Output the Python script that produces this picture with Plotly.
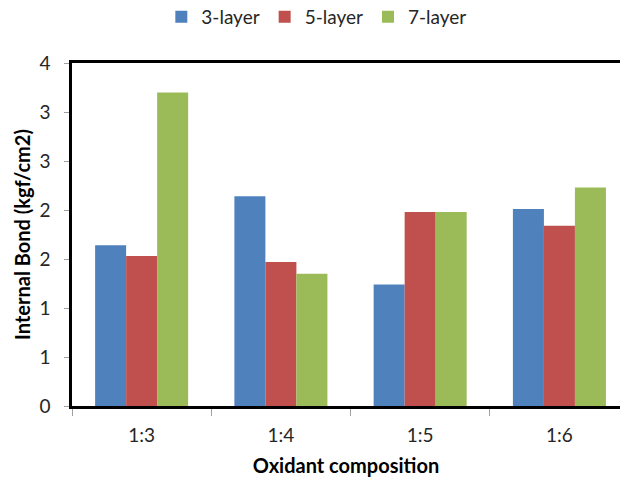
import plotly.graph_objects as go

categories = ["1:3", "1:4", "1:5", "1:6"]
series_names = ["3-layer", "5-layer", "7-layer"]
layer3 = [1.64, 2.14, 1.24, 2.01]
layer5 = [1.53, 1.47, 1.98, 1.84]
layer7 = [3.20, 1.35, 1.98, 2.23]
colors = ["#4F81BD", "#C0504D", "#9BBB59"]
y_tickvals = [0, 0.5, 1, 1.5, 2, 2.5, 3, 3.5]
y_ticktext = ["0", "1", "1", "2", "2", "3", "3", "4"]

FONT = "Lato"
TXT = "#262626"
NB = "\u00a0" * 2

fig = go.Figure()
for name, vals, c in zip(series_names, [layer3, layer5, layer7], colors):
    fig.add_trace(go.Bar(x=categories, y=vals, name=name, marker_color=c,
                         marker_line_width=0))

fig.update_layout(
    width=620, height=480,
    margin=dict(l=72, r=0, t=63, b=74, autoexpand=False),
    paper_bgcolor="white", plot_bgcolor="white",
    barmode="group", bargap=0.332, bargroupgap=0,
    font=dict(family=FONT, color=TXT, size=19),
    legend=dict(orientation="h", xref="container", yref="container",
                x=0.511, xanchor="center", y=0.965, yanchor="middle",
                font=dict(size=19, family=FONT, color=TXT),
                itemwidth=30, traceorder="normal"),
    showlegend=True,
)
fig.update_xaxes(
    range=[-0.5, 3.435], showgrid=False, automargin=False,
    showline=True, linecolor="black", linewidth=3, mirror=True,
    ticks="outside", tickson="boundaries", ticklen=7, tickcolor="#A0A0A0", tickwidth=1,
    ticklabelstandoff=10,
    tickfont=dict(size=19, family=FONT, color=TXT),
    title=dict(text="<b>Oxidant composition</b>", font=dict(size=20, family=FONT, color="black"),
               standoff=15),
    layer="below traces", fixedrange=True,
)
fig.update_yaxes(
    range=[0, 3.5], showgrid=False, zeroline=False, automargin=False,
    showline=True, linecolor="black", linewidth=3,
    tickvals=y_tickvals, ticktext=[t + NB for t in y_ticktext],
    ticks="outside", ticklen=5, tickcolor="#A0A0A0", tickwidth=1,
    tickfont=dict(size=19, family=FONT, color=TXT),
    title=dict(text="<b>Internal Bond (kgf/cm2)</b>", font=dict(size=20, family=FONT, color="black"),
               standoff=4),
    layer="below traces", fixedrange=True,
)

fig.write_html("out.html", config={"displayModeBar": False, "staticPlot": True},
               post_script="document.body.style.margin='0';")
